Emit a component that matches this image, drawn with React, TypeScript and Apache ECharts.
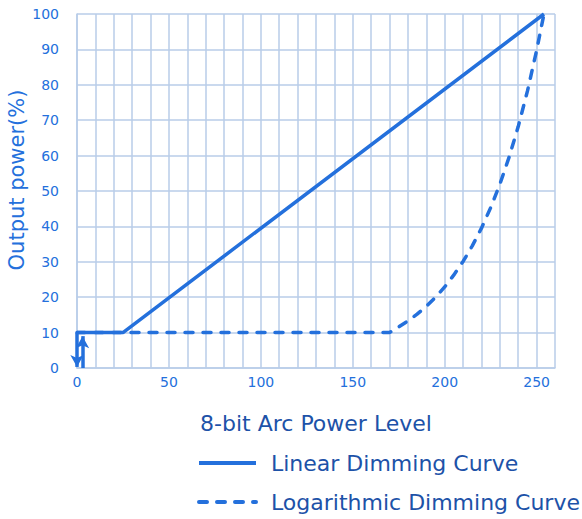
import React, { useEffect, useRef } from "react";
import * as echarts from "echarts";

const linearX = [0, 25, 254];
const linearY = [10, 10, 100];
const logX = [0, 170, 175, 180, 185, 190, 195, 200, 205, 210, 215, 220, 225, 230, 235, 240, 245, 250, 254];
const logY = [10, 10, 11.6, 13.3, 15.2, 17.4, 20.0, 22.9, 26.3, 30.1, 34.5, 39.5, 45.3, 51.9, 59.5, 68.2, 78.2, 89.7, 100];
const seriesNames = ["Linear Dimming Curve", "Logarithmic Dimming Curve"];
const xLabelStep = 50;

const BLUE = "#2470dc";
const DARK = "#1d52a8";
const GRID = "#b9cde9";
const FONT = "DejaVu Sans";

export default function App() {
  const ref = useRef<HTMLDivElement>(null);
  useEffect(() => {
    if (!ref.current) return;
    const chart = echarts.init(ref.current, undefined, { renderer: "svg" });
    const lin = linearX.map((x, i) => [x, linearY[i]]);
    const log = logX.map((x, i) => [x, logY[i]]);
    chart.setOption({
      animation: false,
      textStyle: { fontFamily: FONT },
      grid: { left: 77, right: 27, top: 14, bottom: 151, containLabel: false, outerBoundsMode: "none" },
      xAxis: {
        type: "value",
        min: 0,
        max: 260,
        interval: 10,
        name: "8-bit Arc Power Level",
        nameLocation: "middle",
        nameGap: 44,
        nameTextStyle: { color: DARK, fontSize: 22, fontFamily: FONT },
        axisLine: { show: true, lineStyle: { color: GRID, width: 1.5 } },
        axisTick: { show: false },
        splitLine: { show: true, lineStyle: { color: GRID, width: 1.5 } },
        axisLabel: {
          color: BLUE,
          fontSize: 14,
          margin: 7,
          fontFamily: FONT,
          formatter: (v: number) => (v % xLabelStep === 0 && v <= 250 ? String(v) : ""),
        },
      },
      yAxis: {
        type: "value",
        min: 0,
        max: 100,
        interval: 10,
        name: "Output power(%)",
        nameLocation: "middle",
        nameGap: 50,
        nameMoveOverlap: false,
        nameTextStyle: { color: BLUE, fontSize: 21, fontFamily: FONT, padding: [0, 0, 0, 22] },
        axisLine: { show: true, lineStyle: { color: GRID, width: 1.5 } },
        axisTick: { show: false },
        splitLine: { show: true, lineStyle: { color: GRID, width: 1.5 } },
        axisLabel: { color: BLUE, fontSize: 14, margin: 18, fontFamily: FONT },
      },
      legend: {
        orient: "vertical",
        left: 197,
        top: 452,
        height: 100,
        padding: 0,
        itemWidth: 57,
        itemHeight: 20,
        itemGap: 17,
        itemStyle: { opacity: 0 },
        lineStyle: { width: 4 },
        textStyle: { color: DARK, fontSize: 22, fontFamily: FONT, padding: [0, 0, 0, 10] },
        data: seriesNames,
      },
      series: [
        {
          name: seriesNames[1],
          type: "line",
          data: log,
          symbol: "none",
          z: 2,
          lineStyle: { color: BLUE, width: 3.5, type: [8, 10], cap: "round" },
          itemStyle: { color: BLUE },
        },
        {
          name: seriesNames[0],
          type: "line",
          data: lin,
          symbol: "none",
          z: 3,
          lineStyle: { color: BLUE, width: 3.5, type: "solid" },
          itemStyle: { color: BLUE },
          markLine: {
            silent: true,
            symbol: ["none", "arrow"],
            symbolSize: [10, 12],
            label: { show: false },
            lineStyle: { color: BLUE, width: 3.5, type: "solid" },
            data: [
              [{ coord: [0, 10] }, { coord: [0, 0.3] }],
              [{ coord: [3, 0] }, { coord: [3, 9] }],
            ],
          },
        },
      ],
    });
    return () => chart.dispose();
  }, []);
  return <div ref={ref} style={{ position: "absolute", left: 0, top: 0, width: 582, height: 519 }} />;
}
